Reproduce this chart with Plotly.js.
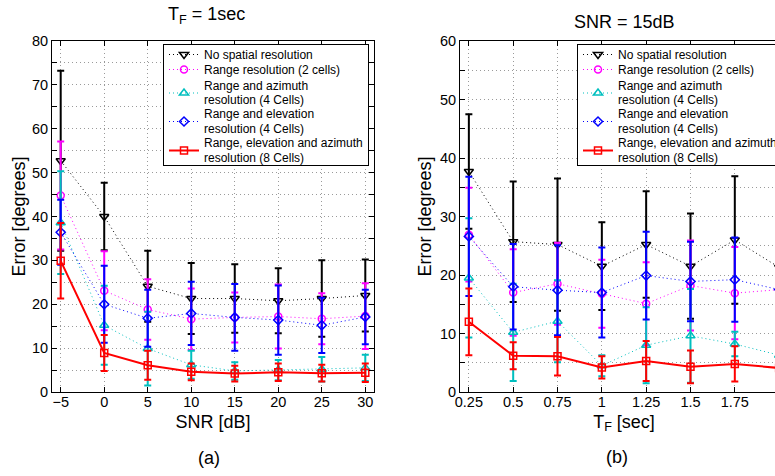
<!DOCTYPE html>
<html>
<head>
<meta charset="utf-8">
<script src="https://cdn.plot.ly/plotly-3.0.1.min.js"></script>
<style>
html, body { margin:0; padding:0; overflow:hidden; background:#fff; }
#chart { width:800px; height:476px; }
</style>
</head>
<body>
<div id="chart"></div>
<script>
// ---------- data ----------
var snr = [-5, 0, 5, 10, 15, 20, 25, 30];
var tf  = [0.25, 0.5, 0.75, 1, 1.25, 1.5, 1.75, 2];

var seriesNames = [
  "No spatial resolution",
  "Range resolution (2 cells)",
  "Range and azimuth<br>resolution (4 Cells)",
  "Range and elevation<br>resolution (4 Cells)",
  "Range, elevation and azimuth<br>resolution (8 Cells)"
];

// (a) error vs SNR, T_F = 1 sec
var noRes_a       = [52.7, 40.0, 24.1, 21.3, 21.3, 20.8, 21.3, 22.0];
var noRes_a_err   = [20.5, 7.7, 8.1, 8.1, 7.8, 7.4, 8.7, 8.2];
var range2_a      = [44.8, 23.1, 18.8, 16.6, 17.0, 17.2, 16.7, 17.3];
var range2_a_err  = [12.3, 9.0, 6.9, 7.0, 5.7, 7.3, 5.8, 7.5];
var rangeAz_a     = [38.6, 15.2, 9.9, 6.2, 4.8, 5.0, 5.2, 5.5];
var rangeAz_a_err = [11.7, 9.0, 8.4, 3.2, 2.0, 2.3, 2.8, 3.0];
var rangeEl_a     = [36.4, 20.0, 16.8, 17.9, 17.0, 16.4, 15.2, 17.1];
var rangeEl_a_err = [7.4, 8.8, 6.5, 7.2, 7.6, 7.9, 6.3, 6.2];
var full_a        = [29.9, 8.9, 6.1, 4.6, 4.2, 4.5, 4.3, 4.4];
var full_a_err    = [8.6, 4.1, 3.3, 1.9, 1.8, 2.0, 1.9, 2.1];

// (b) error vs T_F, SNR = 15 dB
var noRes_b       = [37.7, 25.7, 25.2, 21.5, 25.2, 21.5, 26.0, 21.3];
var noRes_b_err   = [9.8, 10.3, 11.3, 7.5, 9.1, 9.0, 10.9, 8.0];
var range2_b      = [26.9, 17.0, 18.5, 16.8, 15.1, 18.2, 16.9, 17.5];
var range2_b_err  = [8.0, 7.4, 7.0, 5.8, 7.1, 7.7, 7.9, 7.0];
var rangeAz_b     = [19.5, 10.2, 12.1, 4.5, 8.0, 9.6, 8.2, 6.3];
var rangeAz_b_err = [10.2, 8.3, 7.0, 1.8, 6.5, 8.0, 2.1, 2.0];
var rangeEl_b     = [26.6, 18.0, 17.4, 17.0, 19.9, 18.9, 19.2, 17.5];
var rangeEl_b_err = [10.2, 7.3, 7.7, 7.7, 7.5, 6.8, 7.2, 7.0];
var full_b        = [12.0, 6.2, 6.1, 4.2, 5.3, 4.3, 4.8, 4.1];
var full_b_err    = [5.7, 2.3, 3.3, 1.9, 3.4, 2.8, 3.0, 2.0];

var xTicksA = [-5, 0, 5, 10, 15, 20, 25, 30];
var xTicksB = [0.25, 0.5, 0.75, 1, 1.25, 1.5, 1.75, 2];
var xTickTextB = ["0.25", "0.5", "0.75", "1", "1.25", "1.5", "1.75", "2"];
var yTicksA = [0,5,10,15,20,25,30,35,40,45,50,55,60,65,70,75,80];
var yTextA  = ["0","","10","","20","","30","","40","","50","","60","","70","","80"];
var yTicksB = [0,5,10,15,20,25,30,35,40,45,50,55,60];
var yTextB  = ["0","","10","","20","","30","","40","","50","","60"];

// ---------- styles ----------
var styles = [
  {color:"#000000", symbol:"triangle-down-open", size:8, dash:"1px,3px", width:1},
  {color:"#ff00ff", symbol:"circle-open",        size:7, dash:"1px,3px", width:1},
  {color:"#00bfbf", symbol:"triangle-up-open",   size:8, dash:"1px,3px", width:1},
  {color:"#0000ff", symbol:"diamond-open",       size:7, dash:"1px,3px", width:1},
  {color:"#ff0000", symbol:"square-open",        size:7, dash:"solid",   width:2}
];

function mk(x, y, err, i, xa, ya, leg) {
  var s = styles[i];
  return {
    type:"scatter", mode:"lines+markers", x:x, y:y,
    name: seriesNames[i], xaxis:xa, yaxis:ya, legend:leg,
    line:{color:s.color, width:s.width, dash:s.dash},
    marker:{symbol:s.symbol, size:s.size, color:s.color, line:{color:s.color, width:1.5}},
    error_y:{type:"data", array:err, visible:true, color:s.color, thickness:2, width:3.5},
    cliponaxis:true
  };
}

var dataA = [[noRes_a,noRes_a_err],[range2_a,range2_a_err],[rangeAz_a,rangeAz_a_err],[rangeEl_a,rangeEl_a_err],[full_a,full_a_err]];
var dataB = [[noRes_b,noRes_b_err],[range2_b,range2_b_err],[rangeAz_b,rangeAz_b_err],[rangeEl_b,rangeEl_b_err],[full_b,full_b_err]];

var traces = [];
dataA.forEach(function(d,i){ traces.push(mk(snr, d[0], d[1], i, "x", "y", "legend")); });
dataB.forEach(function(d,i){ traces.push(mk(tf, d[0], d[1], i, "x2", "y2", "legend2")); });

var W = 800, H = 476;
var font = "Liberation Sans, Arial, Helvetica, sans-serif";
var tickFont = {family:font, size:14.5, color:"#000"};
var titleFont = {family:font, size:18, color:"#000"};

function axisBase() {
  return {
    showline:true, linecolor:"#000", linewidth:1, mirror:"ticks",
    ticks:"inside", ticklen:5, tickcolor:"#000", tickwidth:1,
    showgrid:true, gridcolor:"#9a9a9a", griddash:"1px,3px", gridwidth:1,
    zeroline:false, tickfont:tickFont, tickmode:"array", fixedrange:true
  };
}
var yDom = [(H-392)/H, (H-41)/H];

var xa1 = Object.assign(axisBase(), {domain:[52/W, 374/W], range:[-6, 31], tickvals:xTicksA,
  ticklabelstandoff:-3, title:{text:"SNR [dB]", font:titleFont, standoff:5}, anchor:"y"});
var ya1 = Object.assign(axisBase(), {domain:yDom, range:[0, 80], tickvals:yTicksA, ticktext:yTextA,
  title:{text:"Error [degrees]", font:titleFont, standoff:1}, anchor:"x"});
var xa2 = Object.assign(axisBase(), {domain:[460/W, 788/W], range:[0.2, 2.05], tickvals:xTicksB, ticktext:xTickTextB,
  ticklabelstandoff:-3, title:{text:"T<sub>F</sub> [sec]", font:titleFont, standoff:5}, anchor:"y2"});
var ya2 = Object.assign(axisBase(), {domain:yDom, range:[0, 60], tickvals:yTicksB, ticktext:yTextB,
  title:{text:"Error [degrees]", font:titleFont, standoff:3}, anchor:"x2"});

var legendBase = {
  bgcolor:"#ffffff", bordercolor:"#000", borderwidth:1,
  font:{family:font, size:12, color:"#000"}, itemwidth:30, tracegroupgap:0,
  yanchor:"top", itemclick:false, itemdoubleclick:false
};

var layout = {
  width:W, height:H, margin:{l:0, r:0, t:0, b:0},
  paper_bgcolor:"#fff", plot_bgcolor:"#fff",
  showlegend:true,
  xaxis:xa1, yaxis:ya1, xaxis2:xa2, yaxis2:ya2,
  legend:Object.assign({}, legendBase, {x:369/W, xanchor:"right", y:1-44/H}),
  legend2:Object.assign({}, legendBase, {x:577/W, xanchor:"left", y:1-44/H}),
  annotations:[
    {text:"T<sub>F</sub> = 1sec", xref:"paper", yref:"paper", x:206/W, y:1-15/H, showarrow:false,
     xanchor:"center", yanchor:"middle", font:titleFont},
    {text:"SNR = 15dB", xref:"paper", yref:"paper", x:624/W, y:1-22/H, showarrow:false,
     xanchor:"center", yanchor:"middle", font:titleFont},
    {text:"(a)", xref:"paper", yref:"paper", x:209/W, y:1-458/H, showarrow:false,
     xanchor:"center", yanchor:"middle", font:titleFont},
    {text:"(b)", xref:"paper", yref:"paper", x:617/W, y:1-457/H, showarrow:false,
     xanchor:"center", yanchor:"middle", font:titleFont}
  ]
};

// tighter legend row spacing (as in the reference figure)
function tightenLegends(gd) {
  var centers = [10.5, 25.5, 49, 77.5, 106.5];
  var boxH = 122;
  ["legend", "legend2"].forEach(function(id) {
    var lg = gd.querySelector("g." + id);
    if (!lg) return;
    var items = lg.querySelectorAll("g.traces");
    if (items.length !== centers.length) return;
    items.forEach(function(it, i) {
      var t = it.getAttribute("transform") || "";
      var m = /translate\(\s*([-\d.e]+)[\s,]+([-\d.e]+)\s*\)/.exec(t);
      if (!m) return;
      it.setAttribute("transform", "translate(" + m[1] + "," + centers[i] + ")");
      it.querySelectorAll("tspan.line").forEach(function(ts) {
        var dy = ts.getAttribute("dy");
        if (dy && /em$/.test(dy)) {
          var v = parseFloat(dy);
          if (v > 0) ts.setAttribute("dy", (v * 1.2 / 1.3).toFixed(3) + "em");
        }
      });
    });
    var bg = lg.querySelector("rect.bg");
    if (bg) bg.setAttribute("height", boxH - 1);
  });
}

Plotly.newPlot("chart", traces, layout, {staticPlot:true, displayModeBar:false}).then(function(gd) {
  try { tightenLegends(gd); } catch (e) {}
});
</script>
</body>
</html>
